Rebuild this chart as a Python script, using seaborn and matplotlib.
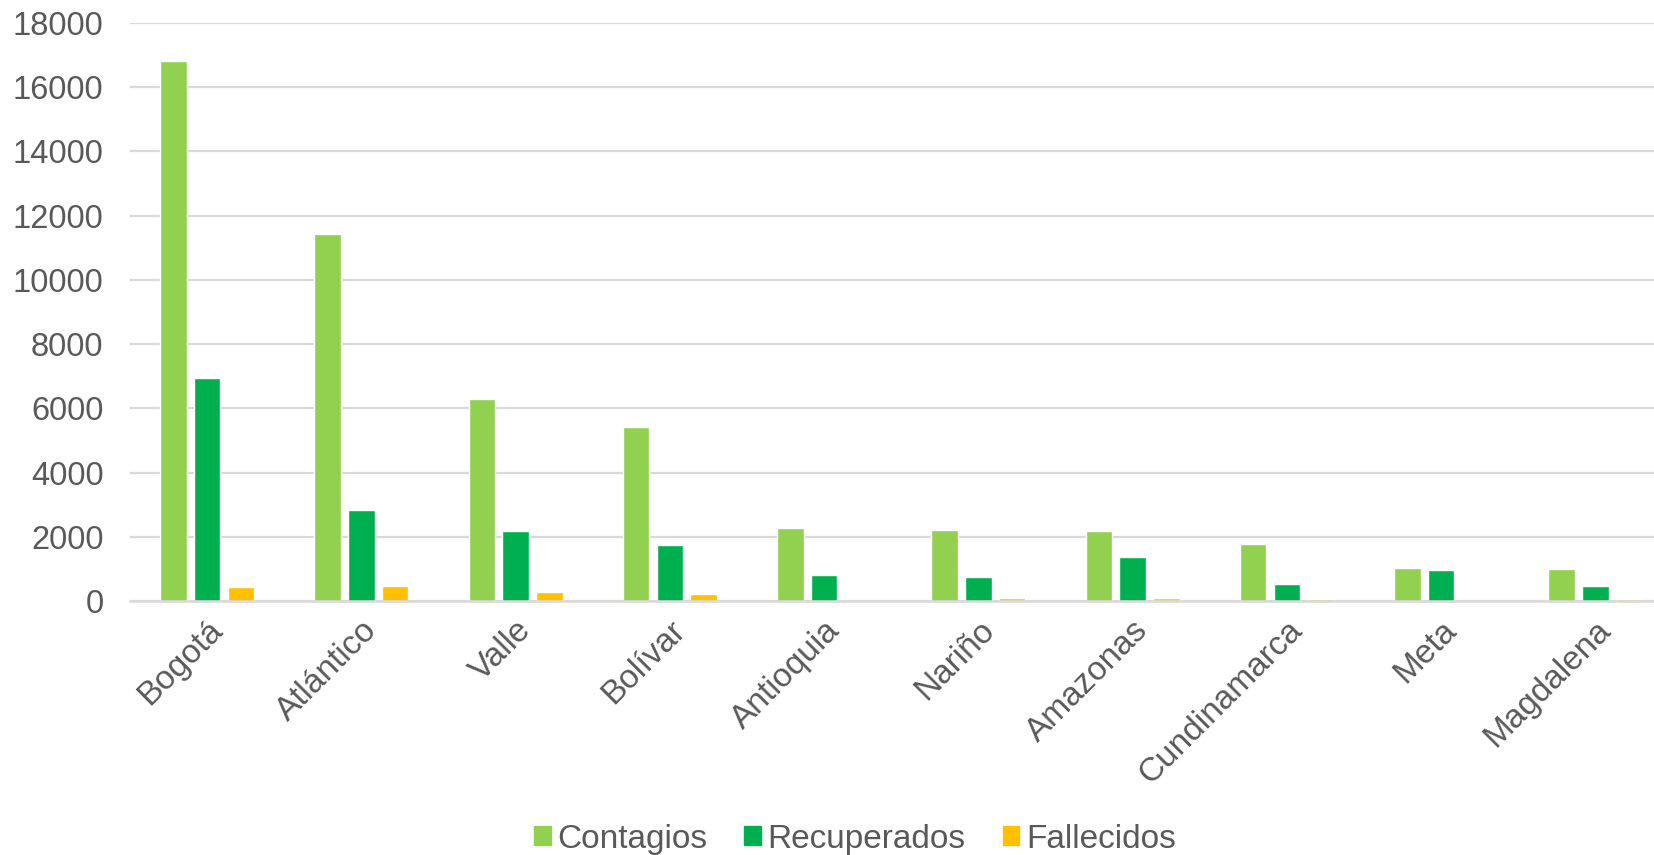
import pandas as pd
import matplotlib.pyplot as plt
import seaborn as sns

departamentos = ["Bogotá", "Atlántico", "Valle", "Bolívar", "Antioquia",
                 "Nariño", "Amazonas", "Cundinamarca", "Meta", "Magdalena"]
contagios = [16820, 11430, 6280, 5420, 2270, 2210, 2180, 1770, 1020, 990]
recuperados = [6960, 2830, 2170, 1740, 810, 740, 1360, 520, 960, 460]
fallecidos = [430, 460, 265, 230, 0, 84, 80, 50, 0, 70]

series = ["Contagios", "Recuperados", "Fallecidos"]
colores = ["#92D050", "#00B050", "#FFC000"]

df = pd.DataFrame({
    "departamento": departamentos * 3,
    "serie": [s for s in series for _ in departamentos],
    "valor": contagios + recuperados + fallecidos,
})

sns.set_style("white")
plt.rcParams["font.family"] = ["Liberation Sans", "DejaVu Sans"]

fig = plt.figure(figsize=(16.54, 8.55), dpi=100)
ax = fig.add_axes([130 / 1654, 1 - 601 / 855, 1 - 130 / 1654, (601 - 23) / 855])

sns.barplot(data=df, x="departamento", y="valor", hue="serie",
            palette=colores, width=0.657, gap=0.22, ax=ax, legend=False,
            saturation=1)

ax.set_ylim(0, 18000)
ax.set_xlim(-0.5, 9.38)
ax.set_yticks(range(0, 18001, 2000))
ax.yaxis.grid(True, color="#D9D9D9", linewidth=1.6)
ax.set_axisbelow(True)
for s in ["top", "right", "left"]:
    ax.spines[s].set_visible(False)
ax.spines["bottom"].set_color("#D9D9D9")
ax.spines["bottom"].set_linewidth(1.8)
ax.set_xlabel("")
ax.set_ylabel("")
ax.tick_params(axis="y", length=0, pad=19, labelsize=23.5, labelcolor="#595959")
ax.tick_params(axis="x", length=0, pad=10, labelsize=24, labelcolor="#595959")
plt.setp(ax.get_xticklabels(), rotation=45, ha="right", va="top",
         rotation_mode="anchor")

handles = [plt.Rectangle((0, 0), 1, 1, color=c) for c in colores]
fig.legend(handles, series, loc="center", bbox_to_anchor=(855 / 1654, 1 - 839 / 855),
           ncol=3, frameon=False, fontsize=24, labelcolor="#595959",
           handlelength=0.5, handleheight=0.5, handletextpad=0.2, columnspacing=1.1)

plt.savefig("out.png", dpi=100)
